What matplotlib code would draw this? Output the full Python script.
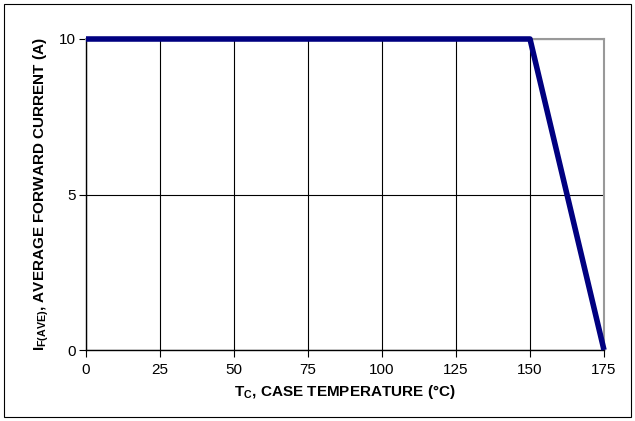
import numpy as np
import matplotlib
matplotlib.use('Agg')
import matplotlib.pyplot as plt
from matplotlib.patches import Rectangle

plt.rcParams['font.family'] = ['Liberation Sans', 'DejaVu Sans']
plt.rcParams['mathtext.fontset'] = 'custom'
plt.rcParams['mathtext.rm'] = 'Liberation Sans'
plt.rcParams['mathtext.bf'] = 'Liberation Sans:bold'

# derating curve
temp = [0, 150, 175]
current = [10, 10, 0]
xticks = [0, 25, 50, 75, 100, 125, 150, 175]
yticks = [0, 5, 10]

fig = plt.figure(figsize=(6.35, 4.21), dpi=100)
fig.patches.append(Rectangle((4/635, 4/421), 627/635, 413/421, transform=fig.transFigure,
                             fill=False, edgecolor='black', linewidth=0.8))
ax = fig.add_axes([86/635, 71/421, 518/635, 311/421])

ax.plot(temp, current, color='#000080', linewidth=4, solid_capstyle='butt', zorder=3, clip_on=False)

ax.set_xlim(0, 175)
ax.set_ylim(0, 10)
ax.set_xticks(xticks)
ax.set_yticks(yticks)
ax.grid(True, color='black', linewidth=0.8)
ax.set_axisbelow(True)
for s in ['top', 'right']:
    ax.spines[s].set_color('#999999')
    ax.spines[s].set_linewidth(1.5)
for s in ['left', 'bottom']:
    ax.spines[s].set_color('black')
    ax.spines[s].set_linewidth(1.0)
ax.tick_params(direction='out', length=5, width=0.8, labelsize=11)
ax.tick_params(axis='x', pad=4)
ax.tick_params(axis='y', pad=2)

ax.set_xlabel(r'T$_\mathbf{C}$, CASE TEMPERATURE (°C)', fontsize=11, fontweight='bold', labelpad=5)
ax.set_ylabel(r'I$_\mathbf{F(AVE)}$, AVERAGE FORWARD CURRENT (A)', fontsize=11, fontweight='bold', labelpad=6)

fig.savefig('out.png', dpi=100)
